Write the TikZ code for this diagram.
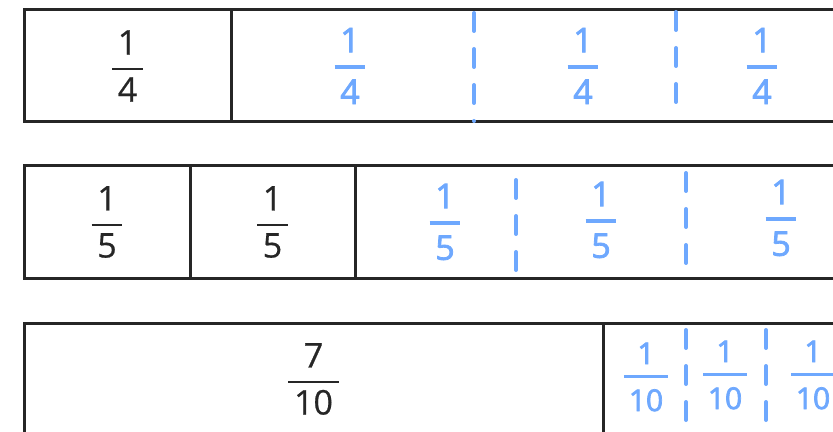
\documentclass[tikz,border=0pt]{standalone}
\usepackage{amsmath}
\usepackage{fontspec}
\setmainfont{Open Sans}[FakeBold=0.6]
\newfontfamily\penfont{Open Sans}[FakeBold=2.4]
\usetikzlibrary{positioning}
\definecolor{barink}{HTML}{262626}
\definecolor{pen}{HTML}{6EA8FE}
% stacked fraction in the text font; optional rule thickness
\newcommand\frc[3][1.1pt]{$\genfrac{}{}{#1}{0}{\text{\,#2\,}}{\text{\,#3\,}}$}
\tikzset{
  cell/.style = {rectangle, draw=barink, line width=1.5pt, minimum height=56pt,
                 inner sep=0pt, outer sep=0pt, text=barink,
                 font=\fontsize{17}{20}\selectfont},
  ink/.style  = {text=pen, inner sep=0pt, font=\fontsize{17}{20}\selectfont\penfont},
  small/.style = {ink, font=\fontsize{15}{18}\selectfont\penfont},
  cut/.style  = {draw=pen, line width=2pt, line cap=round, dash pattern=on 9pt off 9pt},
}
\begin{document}
\begin{tikzpicture}[x=0.5pt, y=-0.5pt]
\useasboundingbox (0,0) rectangle (833,432);
\clip (0,0) rectangle (833,432);

% --- bar of quarters
\node[cell, minimum width=103.5pt] (q1) at (127.5,66) {\frc14};
\node[cell, minimum width=334.5pt, right=0pt of q1] (q2) {};
\node[ink] (q2a) at (350,66) {\frc[1.8pt]14};
\node[ink] (q2b) at (583,66) {\frc[1.8pt]14};
\node[ink] (q2c) at (762,66) {\frc[1.8pt]14};
\draw[cut] (474,13) -- (474,121);
\draw[cut] (676,12) -- (676,116);

% --- bar of fifths
\node[cell, minimum width=83pt] (f1) at (107,222) {\frc15};
\node[cell, minimum width=82.5pt, right=0pt of f1] (f2) {\frc15};
\node[cell, minimum width=272.5pt, right=0pt of f2] (f3) {};
\node[ink] (f3a) at (445,222) {\frc[1.8pt]15};
\node[ink] (f3b) at (601,220) {\frc[1.8pt]15};
\node[ink] (f3c) at (781,218) {\frc[1.8pt]15};
\draw[cut] (516,180) -- (516,277);
\draw[cut] (686,173) -- (686,275);

% --- bar of tenths
\node[cell, minimum width=289.5pt] (t1) at (313.5,379) {\frc7{10}};
\node[cell, minimum width=148.5pt, right=0pt of t1] (t2) {};
\node[small] (t2a) at (646,377) {\frc[1.8pt]1{10}};
\node[small] (t2b) at (725,375) {\frc[1.8pt]1{10}};
\node[small] (t2c) at (813,375) {\frc[1.8pt]1{10}};
\draw[cut] (686,330) -- (686,440);
\draw[cut] (766,330) -- (766,440);

\end{tikzpicture}
\end{document}
